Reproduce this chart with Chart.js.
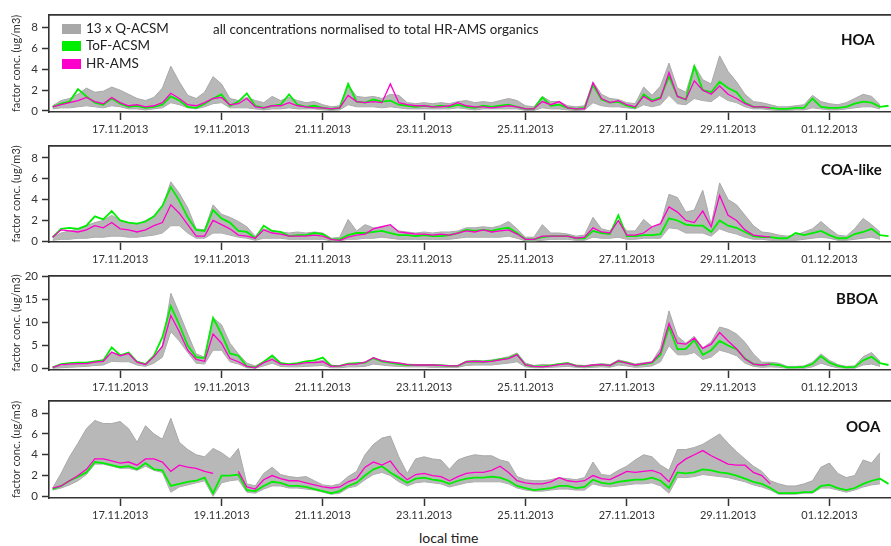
<!DOCTYPE html>
<html>
<head>
<meta charset="utf-8">
<script src="https://cdn.jsdelivr.net/npm/chart.js@4.4.1/dist/chart.umd.min.js"></script>
<style>
  body { margin: 0; background: #fff; width: 891px; height: 546px; overflow: hidden; position: relative; font-family: Lato, "Open Sans", sans-serif; color: #222; }
  canvas { position: absolute; left: 0; }
  .txt { position: absolute; white-space: nowrap; line-height: 1; transform: translateY(-50%); }
  .name { font-weight: bold; font-size: 15px; color: #111; }
  .sw { position: absolute; width: 19px; height: 10px; }
</style>
</head>
<body>
<canvas id="hoa" width="891" height="138" style="top:4px"></canvas>
<canvas id="coa" width="891" height="137" style="top:135px"></canvas>
<canvas id="bboa" width="891" height="135" style="top:265px"></canvas>
<canvas id="ooa" width="891" height="138" style="top:390px"></canvas>

<div class="sw" style="left:62px;top:24px;background:#a8a8a8"></div>
<div class="txt" style="left:86px;top:29px;font-size:13.5px">13 x Q-ACSM</div>
<div class="sw" style="left:62px;top:41px;background:#00ee00"></div>
<div class="txt" style="left:86px;top:46px;font-size:13.5px">ToF-ACSM</div>
<div class="sw" style="left:62px;top:59px;background:#ff00cc"></div>
<div class="txt" style="left:86px;top:64px;font-size:13.5px">HR-AMS</div>
<div class="txt" style="left:213px;top:30px;font-size:13.4px">all concentrations normalised to total HR-AMS organics</div>

<div class="txt name" style="left:841px;top:39px">HOA</div>
<div class="txt name" style="left:821px;top:169px">COA-like</div>
<div class="txt name" style="left:836px;top:298px">BBOA</div>
<div class="txt name" style="left:846px;top:426px">OOA</div>
<div class="txt" style="left:419px;top:538px;font-size:14px">local time</div>

<script>
// time axis: days since 15.11.2013 00:00, one sample every 4 h from 15.11. 16:00
const startDay = 16 / 24;
const stepDay = 4 / 24;
const nPoints = 100;
const times = Array.from({ length: nPoints }, (_, i) => startDay + i * stepDay);

const tickDays = [2, 4, 6, 8, 10, 12, 14, 16];
const tickLabels = ['17.11.2013', '19.11.2013', '21.11.2013', '23.11.2013', '25.11.2013', '27.11.2013', '29.11.2013', '01.12.2013'];
const yTicksSmall = [0, 2, 4, 6, 8];
const yTicksBboa = [0, 5, 10, 15, 20];

const N = null;

// HOA
const hoaTof = [0.4,0.7,0.9,2.1,1.4,0.8,0.6,1.2,0.7,0.4, 0.5,0.3,0.4,0.6,1.4,1.0,0.4,0.3,0.7,1.2,
  1.6,0.5,0.9,1.7,0.5,0.3,0.5,0.6,1.6,0.6, 0.4,0.5,0.3,0.2,0.3,2.6,0.9,0.8,1.1,0.9,
  1.0,0.6,0.5,0.4,0.5,0.4,0.5,0.4,0.6,0.4, 0.3,0.5,0.4,0.5,0.6,0.4,0.2,0.2,1.3,0.5,
  0.6,0.3,0.2,0.3,2.5,1.1,0.8,0.9,0.5,0.3, 1.6,1.0,1.3,3.3,1.4,1.1,4.3,2.0,1.8,2.8,
  2.2,1.8,0.8,0.4,0.4,0.3,0.2,0.2,0.3,0.3, 1.2,0.4,0.3,0.3,0.4,0.7,0.9,0.8,0.4,0.5];
const hoaHr = [0.4,0.6,0.8,1.0,1.3,0.9,0.7,1.3,0.8,0.5, 0.6,0.4,0.5,0.8,1.7,1.2,0.6,0.5,0.8,1.2,
  1.3,0.6,0.7,1.2,0.4,0.3,0.5,0.5,0.8,0.5, 0.4,0.3,0.3,0.2,0.3,1.5,0.9,0.8,0.9,0.8,
  2.6,0.8,0.6,0.5,0.5,0.4,0.4,0.5,0.8,0.5, 0.4,0.4,0.3,0.4,0.5,0.4,0.2,0.2,0.9,0.6,
  0.9,0.3,0.2,0.2,2.7,1.2,0.8,1.0,0.6,0.4, 1.4,0.9,1.2,3.7,1.4,1.1,2.9,2.0,1.6,2.4,
  1.6,1.2,0.7,0.4,0.4,0.3,N,N,N,N, N,N,N,N,N,N,N,N,N,N];
const hoaQHi = [0.5,1.0,1.2,1.6,2.2,1.8,1.9,2.3,2.0,1.6, 1.2,1.0,1.3,2.2,4.3,2.8,1.5,1.2,1.8,3.3,
  2.6,1.2,1.0,1.3,1.0,0.8,1.4,1.0,1.3,1.0, 0.8,0.9,0.6,0.4,0.5,2.5,1.4,1.3,1.4,1.2,
  1.6,1.5,0.8,0.7,0.8,0.7,0.8,0.7,0.9,1.0, 0.8,0.9,0.8,1.0,1.2,1.0,0.5,0.4,1.4,0.9,
  0.9,0.5,0.4,0.5,2.8,1.6,1.2,1.1,0.8,0.7, 2.3,1.5,2.4,4.6,2.2,1.8,4.4,3.0,2.6,5.3,
  3.8,2.8,1.6,0.9,0.8,0.6,0.4,0.4,0.5,0.6, 1.5,0.9,0.7,0.6,0.8,1.2,1.6,1.4,0.6,N];
const hoaQLo = [0.2,0.3,0.3,0.4,0.5,0.4,0.3,0.5,0.4,0.2, 0.2,0.1,0.2,0.3,0.8,0.6,0.3,0.2,0.4,0.7,
  0.8,0.3,0.3,0.3,0.2,0.1,0.2,0.2,0.3,0.2, 0.2,0.2,0.1,0.05,0.1,0.6,0.4,0.4,0.4,0.3,
  0.4,0.3,0.2,0.2,0.2,0.2,0.2,0.2,0.3,0.2, 0.1,0.2,0.2,0.2,0.2,0.2,0.05,0.05,0.3,0.2,
  0.2,0.1,0.05,0.1,0.8,0.5,0.4,0.4,0.3,0.2, 0.6,0.4,0.6,1.5,0.7,0.6,1.2,1.0,0.9,1.5,
  1.0,0.8,0.4,0.2,0.2,0.1,0.05,0.05,0.1,0.1, 0.3,0.2,0.1,0.1,0.2,0.3,0.4,0.4,0.2,N];

// COA-like
const coaTof = [0.4,1.2,1.3,1.2,1.5,2.4,2.1,2.9,2.0,1.8, 1.7,1.9,2.4,3.4,5.2,3.9,2.3,1.1,1.0,3.0,
  2.2,1.8,1.0,0.9,0.3,1.5,1.0,0.9,0.5,0.6, 0.6,0.8,0.7,0.2,0.2,0.6,0.8,0.8,0.9,1.0,
  0.8,0.6,0.6,0.5,0.6,0.5,0.5,0.6,0.8,1.1, 1.0,1.1,1.0,1.2,1.3,0.8,0.2,0.2,0.4,0.5,
  0.5,0.5,0.3,0.3,1.0,0.8,0.7,2.5,0.5,0.5, 0.6,0.6,0.7,2.2,2.0,1.6,1.5,1.5,0.9,2.0,
  1.5,1.3,0.9,0.5,0.4,0.4,0.3,0.3,0.8,0.6, 0.8,1.0,0.6,0.3,0.3,0.7,0.9,1.2,0.6,0.5];
const coaHr = [0.4,1.1,1.0,0.9,1.1,1.5,1.3,1.8,1.2,1.1, 0.9,1.1,1.5,1.8,3.5,2.7,1.6,0.5,0.5,2.0,
  1.6,1.2,0.6,0.5,0.3,1.1,0.8,0.7,0.5,0.5, 0.5,0.6,0.5,0.2,0.1,0.4,0.6,0.7,1.2,1.4,
  1.6,0.9,0.8,0.7,0.7,0.6,0.7,0.6,0.8,1.0, 0.9,1.1,0.9,1.0,1.1,0.7,0.2,0.2,0.5,0.5,
  0.5,0.5,0.3,0.4,1.3,0.9,0.8,2.0,0.6,0.6, 0.8,1.4,1.7,3.3,2.8,2.0,1.8,2.9,1.4,4.4,
  2.5,2.0,1.1,0.6,0.5,0.4,N,N,N,N, N,N,N,N,N,N,N,N,N,N];
const coaQHi = [0.4,0.8,1.0,1.2,1.5,1.8,2.0,2.5,2.0,1.8, 1.6,2.0,2.4,3.3,5.7,4.6,3.2,1.2,1.1,3.5,
  2.6,2.3,1.9,1.4,0.5,1.2,1.0,0.9,0.8,0.9, 0.8,0.9,0.8,0.3,0.4,2.1,1.0,1.6,1.3,1.4,
  1.5,1.0,0.9,0.8,0.9,0.8,0.9,0.9,1.0,1.3, 1.3,1.4,1.3,1.5,1.9,1.2,0.4,0.4,1.6,0.8,
  0.8,0.7,0.5,0.6,2.3,1.2,1.0,2.0,1.0,1.0, 2.1,1.4,1.6,4.5,4.2,2.8,3.0,4.9,1.6,5.6,
  4.0,3.5,2.5,1.5,0.9,0.8,0.6,0.5,0.6,0.9, 1.2,1.9,1.2,0.6,0.5,1.2,2.2,1.6,0.9,N];
const coaQLo = [0.1,0.2,0.2,0.3,0.3,0.4,0.4,0.5,0.5,0.4, 0.4,0.5,0.6,0.8,1.5,1.5,0.8,0.3,0.3,0.8,
  0.8,0.6,0.4,0.3,0.1,0.3,0.3,0.3,0.2,0.2, 0.2,0.2,0.2,0.05,0.05,0.2,0.2,0.3,0.3,0.4,
  0.3,0.2,0.2,0.2,0.2,0.2,0.2,0.2,0.3,0.4, 0.4,0.4,0.4,0.4,0.5,0.3,0.05,0.05,0.1,0.2,
  0.2,0.2,0.1,0.1,0.4,0.3,0.3,0.4,0.2,0.2, 0.3,0.3,0.3,1.3,1.2,0.8,0.8,0.8,0.5,1.2,
  0.9,0.7,0.4,0.2,0.2,0.1,0.1,0.1,0.1,0.2, 0.3,0.4,0.3,0.1,0.1,0.2,0.3,0.4,0.2,N];

// BBOA
const bboaTof = [0.3,1.0,1.2,1.3,1.3,1.6,1.8,4.6,2.9,3.5, 1.5,1.0,2.8,6.8,13.5,9.5,5.0,2.5,2.3,11.0,
  7.5,3.3,2.8,0.5,0.3,1.5,2.8,1.2,1.0,1.2, 1.6,1.8,2.4,0.6,0.6,1.1,1.2,1.3,2.3,1.6,
  1.3,1.0,0.8,0.8,0.8,0.8,0.7,0.6,0.6,1.5, 1.6,1.5,1.7,2.0,2.3,3.1,0.8,0.5,0.5,0.7,
  1.0,1.2,0.6,0.5,0.7,0.9,0.7,1.6,1.3,0.8, 1.0,1.3,3.0,9.0,4.2,4.3,6.2,3.0,4.0,6.0,
  5.0,4.2,2.2,1.0,0.8,1.0,0.8,0.3,0.3,0.4, 1.0,2.7,1.3,0.6,0.3,0.4,1.8,2.6,1.2,0.8];
const bboaHr = [0.3,0.9,1.0,1.1,1.1,1.4,1.6,3.6,2.8,3.3, 1.4,0.9,2.6,4.8,11.5,8.0,4.0,2.0,1.6,7.5,
  5.5,2.2,1.5,0.5,0.2,1.3,2.0,1.0,0.9,1.0, 1.3,1.3,1.5,0.5,0.6,1.0,1.0,1.4,2.4,1.7,
  1.4,1.2,0.9,0.8,0.8,0.8,0.7,0.6,0.6,1.5, 1.6,1.5,1.6,1.9,2.2,3.0,0.8,0.5,0.4,0.6,
  0.9,1.1,0.6,0.5,0.8,0.9,0.7,1.7,1.2,0.8, 1.1,1.4,3.5,9.8,5.5,5.3,6.6,4.4,5.3,7.8,
  6.0,4.3,2.1,1.0,0.8,1.0,N,N,N,N, N,N,N,N,N,N,N,N,N,N];
const bboaQHi = [0.2,0.6,0.8,1.0,1.2,1.5,2.0,3.5,3.0,3.0, 1.6,1.1,2.5,5.0,16.3,12.0,7.5,3.2,2.5,11.0,
  9.5,5.5,3.2,1.2,0.6,1.5,3.0,1.3,0.9,0.8, 1.2,1.5,1.8,0.8,0.6,1.0,1.0,1.3,2.3,1.8,
  1.5,1.3,1.0,0.9,0.9,0.9,0.8,0.7,0.7,1.6, 1.8,1.7,1.9,2.2,2.6,3.4,1.2,0.7,0.9,0.8,
  1.1,1.3,0.8,0.7,0.9,1.1,0.9,1.9,1.5,1.0, 1.3,1.5,4.5,12.5,7.0,5.5,7.0,4.5,5.8,9.0,
  8.5,7.5,5.7,3.2,1.4,1.4,1.2,0.5,0.5,0.6, 1.4,3.2,1.8,0.9,0.5,0.6,2.6,3.5,1.6,N];
const bboaQLo = [0.1,0.2,0.3,0.4,0.5,0.7,0.8,1.6,1.5,1.5, 0.8,0.5,1.2,2.5,8.0,6.0,3.5,1.2,1.0,4.0,
  4.0,1.5,1.0,0.2,0.1,0.6,1.2,0.5,0.4,0.4, 0.5,0.6,0.7,0.2,0.2,0.4,0.4,0.5,1.0,0.8,
  0.6,0.5,0.4,0.4,0.4,0.3,0.3,0.3,0.3,0.7, 0.8,0.8,0.8,1.0,1.2,1.5,0.4,0.2,0.2,0.3,
  0.4,0.5,0.3,0.2,0.3,0.4,0.3,0.8,0.6,0.3, 0.4,0.6,1.5,5.0,3.0,3.0,3.5,2.0,2.5,4.0,
  3.5,2.8,1.2,0.5,0.3,0.4,0.3,0.1,0.1,0.1, 0.4,1.2,0.6,0.2,0.1,0.1,0.8,1.0,0.5,N];

// OOA
const ooaTof = [0.7,1.0,1.5,1.9,2.3,3.3,3.2,3.0,2.8,2.9, 2.6,3.2,2.6,2.5,1.0,1.2,1.4,1.5,1.8,0.3,
  2.0,2.0,2.1,0.6,0.5,1.0,1.4,1.3,1.0,1.0, 0.9,0.7,0.5,0.3,0.5,1.0,1.3,2.0,2.6,2.9,
  2.3,1.8,1.3,1.7,1.8,1.6,1.5,1.2,1.5,1.7, 1.8,1.8,1.9,1.8,1.5,1.0,0.8,0.6,0.7,0.8,
  1.0,1.0,0.8,0.9,1.6,1.3,1.2,1.4,1.5,1.6, 1.6,1.8,1.5,0.8,2.3,2.2,2.3,2.6,2.5,2.3,
  2.2,2.0,1.7,1.4,1.2,0.8,0.3,0.3,0.3,0.4, 0.4,1.0,1.1,0.8,0.6,0.8,1.2,1.5,1.7,1.2];
const ooaHr = [0.8,1.0,1.5,2.0,2.6,3.6,3.6,3.4,3.2,3.3, 3.0,3.6,3.6,3.3,2.4,3.0,2.8,2.7,2.4,2.2,
  N,N,2.4,0.9,0.7,1.6,2.0,1.7,1.5,1.5, 1.3,1.1,0.9,0.8,0.9,1.4,1.7,2.8,3.3,3.0,
  3.4,2.3,1.6,2.1,2.2,2.0,1.9,1.5,1.9,2.2, 2.3,2.3,2.5,2.9,2.3,1.5,1.3,1.2,1.2,1.4,
  1.8,1.5,1.4,1.5,2.0,1.7,1.6,2.0,2.4,2.3, 2.4,2.5,2.2,1.4,3.0,3.6,4.0,4.4,3.9,3.5,
  3.1,3.0,3.0,2.3,2.0,1.2,N,N,N,N, N,N,N,N,N,N,N,N,N,N];
const ooaQHi = [0.8,2.2,3.8,5.1,6.5,7.3,7.0,7.0,7.2,6.5, 5.2,6.8,6.0,5.5,7.5,5.2,4.5,4.0,3.8,4.6,
  4.2,3.6,4.6,1.2,1.0,2.2,2.8,2.1,1.9,1.8, 1.9,1.5,1.1,1.0,1.2,1.9,2.4,4.0,5.0,5.6,
  5.8,3.8,2.2,3.6,3.8,3.6,3.5,2.6,3.5,3.8, 4.0,3.9,3.9,3.5,3.3,1.9,1.6,1.5,1.5,1.6,
  1.8,1.7,1.6,1.8,3.3,2.1,2.0,2.5,2.9,3.5, 4.0,3.8,3.0,2.5,4.5,4.5,4.7,5.0,5.5,6.0,
  5.1,4.3,3.6,2.9,2.4,1.5,1.2,1.0,1.0,1.2, 1.5,2.8,3.2,2.2,1.8,2.0,3.5,3.2,4.2,N];
const ooaQLo = [0.6,0.8,1.1,1.5,2.1,3.1,3.1,2.9,2.7,2.7, 2.5,2.9,2.5,2.3,0.4,0.9,1.1,1.3,1.5,0.0,
  1.3,1.5,1.6,0.4,0.3,0.7,1.0,1.0,0.8,0.8, 0.7,0.6,0.4,0.2,0.3,0.8,1.0,1.6,2.1,2.3,
  2.0,1.4,1.0,1.3,1.4,1.3,1.2,0.9,1.1,1.3, 1.4,1.4,1.4,1.4,1.2,0.8,0.6,0.5,0.5,0.6,
  0.7,0.7,0.6,0.6,1.2,1.0,0.9,1.0,1.1,1.2, 1.2,1.3,1.0,0.3,1.8,1.8,1.9,2.1,2.0,1.9,
  1.8,1.6,1.4,1.1,0.9,0.6,0.2,0.2,0.2,0.3, 0.3,0.8,0.8,0.6,0.4,0.6,0.9,1.1,1.2,N];

const COL_TOF = '#00ee00';
const COL_HR = '#ff00cc';
const COL_Q = '#a8a8a8';
const AXIS = '#333';

function pts(vals) {
  return vals.map((v, i) => ({ x: times[i], y: v }));
}

// top edge of each panel frame
const frameTop = {
  id: 'frameTop',
  afterDraw(chart) {
    const { ctx, chartArea: a } = chart;
    ctx.save();
    ctx.strokeStyle = AXIS;
    ctx.lineWidth = 1.6;
    ctx.beginPath();
    ctx.moveTo(a.left, a.top);
    ctx.lineTo(a.right, a.top);
    ctx.stroke();
    ctx.restore();
  }
};

function panel(id, hr, tof, qHi, qLo, yMin, yMax, yTicks) {
  new Chart(document.getElementById(id), {
    type: 'line',
    data: {
      datasets: [
        { data: pts(hr), borderColor: COL_HR, borderWidth: 1.3 },
        { data: pts(tof), borderColor: COL_TOF, borderWidth: 1.8 },
        { data: pts(qHi), borderColor: COL_Q, borderWidth: 1, fill: '+1', backgroundColor: 'rgba(176,176,176,0.9)' },
        { data: pts(qLo), borderColor: COL_Q, borderWidth: 1 }
      ]
    },
    options: {
      responsive: false, animation: false, events: [],
      layout: { padding: { top: 10, left: 0, right: 0, bottom: 0 } },
      elements: { point: { radius: 0 }, line: { tension: 0 } },
      plugins: { legend: { display: false }, tooltip: { enabled: false } },
      scales: {
        x: {
          type: 'linear', min: 0.595, max: 17.216,
          afterBuildTicks: s => { s.ticks = tickDays.map(v => ({ value: v })); },
          afterFit: s => { s.height = 30; },
          grid: { drawOnChartArea: false, drawTicks: true, tickLength: 8, tickColor: AXIS, tickWidth: 1.5 },
          border: { display: true, color: AXIS, width: 1.6 },
          ticks: { padding: 3, maxRotation: 0, color: '#333', font: { family: 'Lato', size: 11 },
            callback: (v) => tickLabels[tickDays.indexOf(v)] }
        },
        y: {
          min: yMin, max: yMax,
          afterBuildTicks: s => { s.ticks = yTicks.map(v => ({ value: v })); },
          afterFit: s => { s.width = 49; },
          grid: { drawOnChartArea: false, drawTicks: true, tickLength: 7, tickColor: AXIS, tickWidth: 1.5 },
          border: { display: true, color: AXIS, width: 1.6 },
          ticks: { padding: 4, color: '#333', font: { family: 'Lato', size: 11.5 } },
          title: { display: true, text: 'factor conc. (ug/m3)', color: '#333',
            font: { family: 'Lato', size: 11 }, padding: { top: 10, bottom: 0 } }
        }
      }
    },
    plugins: [frameTop]
  });
}

panel('hoa', hoaHr, hoaTof, hoaQHi, hoaQLo, -0.1, 9.24, yTicksSmall);
panel('coa', coaHr, coaTof, coaQHi, coaQLo, -0.06, 9.14, yTicksSmall);
panel('bboa', bboaHr, bboaTof, bboaQHi, bboaQLo, -0.28, 20.05, yTicksBboa);
panel('ooa', ooaHr, ooaTof, ooaQHi, ooaQLo, -0.16, 9.18, yTicksSmall);
</script>
</body>
</html>
